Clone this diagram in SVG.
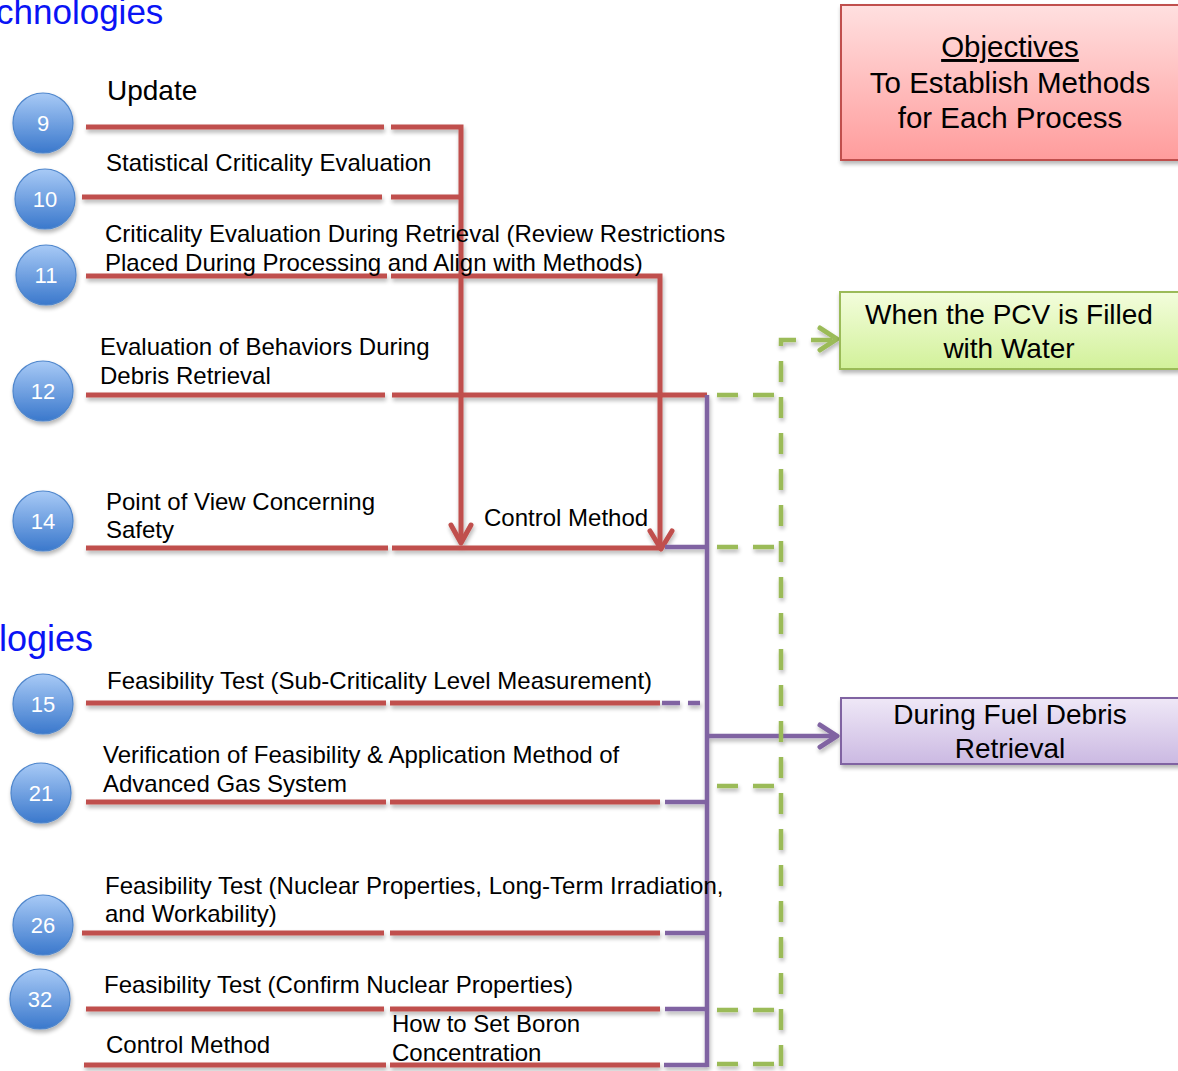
<svg xmlns="http://www.w3.org/2000/svg" width="1178" height="1071" viewBox="0 0 1178 1071">
<defs>
<linearGradient id="gCircle" x1="0" y1="0" x2="0" y2="1">
<stop offset="0" stop-color="#a8caf6"/>
<stop offset="1" stop-color="#3a78cc"/>
</linearGradient>
<linearGradient id="gRed" x1="0" y1="0" x2="0" y2="1">
<stop offset="0" stop-color="#ffe0e0"/>
<stop offset="1" stop-color="#ff9c9c"/>
</linearGradient>
<linearGradient id="gGreen" x1="0" y1="0" x2="0" y2="1">
<stop offset="0" stop-color="#f3fddc"/>
<stop offset="1" stop-color="#d2f19a"/>
</linearGradient>
<linearGradient id="gPurple" x1="0" y1="0" x2="0" y2="1">
<stop offset="0" stop-color="#efe8f7"/>
<stop offset="1" stop-color="#cbb9e2"/>
</linearGradient>
<filter id="sh" x="-20%" y="-20%" width="140%" height="160%">
<feGaussianBlur in="SourceAlpha" stdDeviation="2"/>
<feOffset dx="1" dy="3" result="b"/>
<feComponentTransfer><feFuncA type="linear" slope="0.3"/></feComponentTransfer>
<feMerge><feMergeNode/><feMergeNode in="SourceGraphic"/></feMerge>
</filter>
</defs>
<style>
.t{font-family:"Liberation Sans",Arial,sans-serif;font-size:24px;fill:#000}
.bt{font-family:"Liberation Sans",Arial,sans-serif;font-size:28px;fill:#000;text-anchor:middle}
.hd{font-family:"Liberation Sans",Arial,sans-serif;font-size:35px;fill:#0a14f5}
.num{font-family:"Liberation Sans",Arial,sans-serif;font-size:22px;fill:#fff;text-anchor:middle}
.circ{fill:url(#gCircle);stroke:#4f86cc;stroke-width:1.2}
.red{stroke:#c0504d;stroke-width:5;fill:none}
.pur{stroke:#8064a2;stroke-width:4.5;fill:none}
.grn{stroke:#9bbb59;stroke-width:4.5;fill:none;stroke-dasharray:21 15}
.arr{fill:none;stroke-width:5;stroke-linecap:round;stroke-linejoin:round}
</style>

<text class="hd" x="-4" y="24">chnologies</text>
<text class="hd" x="-1" y="651" style="font-size:36px">logies</text>

<g id="connectors" filter="url(#sh)">
<path class="red" d="M86,127H384 M391,127H461V540"/>
<path class="red" d="M82,197H382 M391,197H461"/>
<path class="red" d="M86,276H387 M391,276H660V545"/>
<path class="red" d="M86,395H385 M392,395H707"/>
<path class="red" d="M86,548H388 M392,548H662"/>
<path class="red" d="M86,703H386 M390,703H660"/>
<path class="red" d="M86,802H386 M390,802H660"/>
<path class="red" d="M82,933H384 M390,933H660"/>
<path class="red" d="M86,1009H384 M390,1009H660"/>
<path class="red" d="M84,1065H386 M390,1065H660"/>
<path class="arr" stroke="#c0504d" d="M451,525L461,543L471,525"/>
<path class="arr" stroke="#c0504d" d="M650,531L661,549L672,531"/>
<path class="pur" d="M707,395V1067"/>
<path class="pur" d="M665,547H707"/>
<path class="pur" d="M662,703H700" stroke-dasharray="18 8"/>
<path class="pur" d="M665,802H707"/>
<path class="pur" d="M665,933H707"/>
<path class="pur" d="M665,1009H707"/>
<path class="pur" d="M664,1065H707"/>
<path class="pur" d="M707,736H836"/>
<path class="arr" stroke="#8064a2" d="M820,725L837,736L820,747"/>
<path class="grn" d="M781,1066V340H836"/>
<path class="grn" d="M717,395H781"/>
<path class="grn" d="M717,547H781"/>
<path class="grn" d="M717,786H781"/>
<path class="grn" d="M717,1010H781"/>
<path class="grn" d="M717,1064H781"/>
<path class="arr" stroke="#9bbb59" d="M820,328L837,339L820,350"/>
</g>

<g id="n9"><circle class="circ" cx="43" cy="123" r="30" filter="url(#sh)"/><text class="num" x="43" y="131">9</text></g>
<g id="n10"><circle class="circ" cx="45" cy="199" r="30" filter="url(#sh)"/><text class="num" x="45" y="207">10</text></g>
<g id="n11"><circle class="circ" cx="46" cy="275" r="30" filter="url(#sh)"/><text class="num" x="46" y="283">11</text></g>
<g id="n12"><circle class="circ" cx="43" cy="391" r="30" filter="url(#sh)"/><text class="num" x="43" y="399">12</text></g>
<g id="n14"><circle class="circ" cx="43" cy="521" r="30" filter="url(#sh)"/><text class="num" x="43" y="529">14</text></g>
<g id="n15"><circle class="circ" cx="43" cy="704" r="30" filter="url(#sh)"/><text class="num" x="43" y="712">15</text></g>
<g id="n21"><circle class="circ" cx="41" cy="793" r="30" filter="url(#sh)"/><text class="num" x="41" y="801">21</text></g>
<g id="n26"><circle class="circ" cx="43" cy="925" r="30" filter="url(#sh)"/><text class="num" x="43" y="933">26</text></g>
<g id="n32"><circle class="circ" cx="40" cy="999" r="30" filter="url(#sh)"/><text class="num" x="40" y="1007">32</text></g>

<g id="labels">
<text class="t" x="107" y="100" style="font-size:28px">Update</text>
<text class="t" x="106" y="171">Statistical Criticality Evaluation</text>
<text class="t" x="105" y="242">Criticality Evaluation During Retrieval (Review Restrictions</text>
<text class="t" x="105" y="271">Placed During Processing and Align with Methods)</text>
<text class="t" x="100" y="355">Evaluation of Behaviors During</text>
<text class="t" x="100" y="384">Debris Retrieval</text>
<text class="t" x="106" y="510">Point of View Concerning</text>
<text class="t" x="106" y="538">Safety</text>
<text class="t" x="484" y="526">Control Method</text>
<text class="t" x="107" y="689">Feasibility Test (Sub-Criticality Level Measurement)</text>
<text class="t" x="103" y="763">Verification of Feasibility &amp; Application Method of</text>
<text class="t" x="103" y="792">Advanced Gas System</text>
<text class="t" x="105" y="894">Feasibility Test (Nuclear Properties, Long-Term Irradiation,</text>
<text class="t" x="105" y="922">and Workability)</text>
<text class="t" x="104" y="993">Feasibility Test (Confirm Nuclear Properties)</text>
<text class="t" x="106" y="1053">Control Method</text>
<text class="t" x="392" y="1032">How to Set Boron</text>
<text class="t" x="392" y="1061">Concentration</text>
</g>

<g id="objectives">
<rect x="841" y="5" width="345" height="155" fill="url(#gRed)" stroke="#c0504d" stroke-width="2" filter="url(#sh)"/>
<text class="bt" x="1010" y="57" style="font-size:29.5px" text-decoration="underline">Objectives</text>
<text class="bt" x="1010" y="93" style="font-size:29.5px">To Establish Methods</text>
<text class="bt" x="1010" y="128" style="font-size:29.5px">for Each Process</text>
</g>
<g id="pcv-filled">
<rect x="840" y="292" width="345" height="77" fill="url(#gGreen)" stroke="#9bbb59" stroke-width="2" filter="url(#sh)"/>
<text class="bt" x="1009" y="324">When the PCV is Filled</text>
<text class="bt" x="1009" y="358">with Water</text>
</g>
<g id="during-retrieval">
<rect x="841" y="698" width="345" height="66" fill="url(#gPurple)" stroke="#8064a2" stroke-width="2" filter="url(#sh)"/>
<text class="bt" x="1010" y="724">During Fuel Debris</text>
<text class="bt" x="1010" y="758">Retrieval</text>
</g>
</svg>
